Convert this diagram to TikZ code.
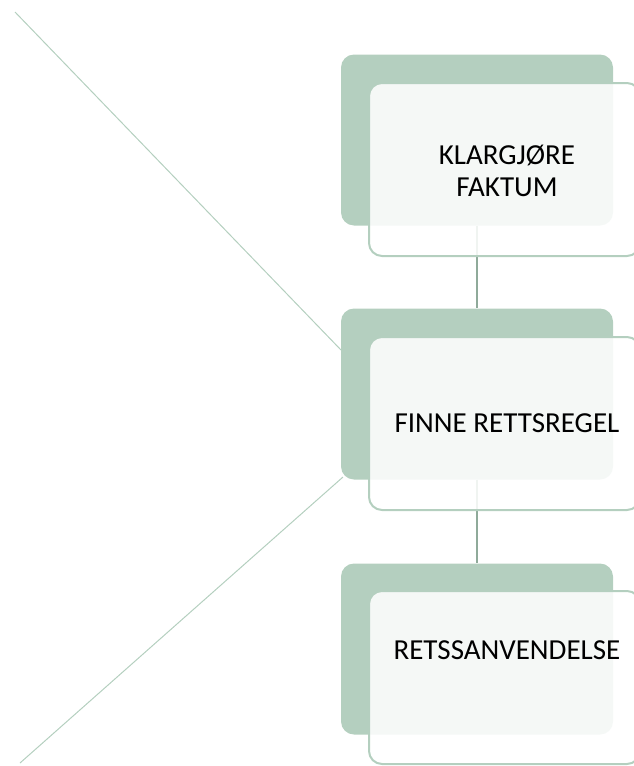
\documentclass[tikz,border=0pt]{standalone}
\usepackage{fontspec}
\setmainfont{Carlito}
\definecolor{sage}{HTML}{B4CFBF}
\definecolor{sagedark}{HTML}{8FAA9A}
\tikzset{
  backbox/.style={rectangle, rounded corners=13pt, fill=sage, draw=none,
    minimum width=272pt, minimum height=171pt, inner sep=0pt},
  frontbox/.style={rectangle, rounded corners=13pt, draw=sage, line width=2pt,
    fill=white, fill opacity=0.87, minimum width=271pt, minimum height=173pt, inner sep=0pt},
  boxtext/.style={align=center, font=\fontsize{29}{32}\selectfont, text=black}
}
\begin{document}
\begin{tikzpicture}[x=1pt,y=-1pt]
      \useasboundingbox (0,0) rectangle (633,766);
      % bracket lines
      \coordinate (up) at (15,12);
      \coordinate (low) at (20,763);
      \coordinate (in1) at (341,350);
      \coordinate (in2) at (343,477);
      \draw[sage, line width=1pt] (up) -- (in1);
      \draw[sage, line width=1pt] (in2) -- (low);
      % back boxes
      \node[backbox] (b1) at (477,140) {};
      \node[backbox] (b2) at (477,394) {};
      \node[backbox] (b3) at (477,649) {};
      \begin{scope}[sagedark, line width=2pt]
        \draw (b1.south) to (b2.north);
        \draw (b2.south) to (b3.north);
      \end{scope}
      % front boxes
      \node[frontbox] (f1) at (504.5,169.5) {};
      \node[frontbox] (f2) at (504.5,423.5) {};
      \node[frontbox] (f3) at (504.5,677.5) {};
      % labels
      \node[boxtext] (t1) at (507,171) {KLARGJØRE\\FAKTUM};
      \node[boxtext] (t2) at (507,423) {FINNE RETTSREGEL};
      \node[boxtext] (t3) at (507,650) {RETSSANVENDELSE};
    \end{tikzpicture}
\end{document}
